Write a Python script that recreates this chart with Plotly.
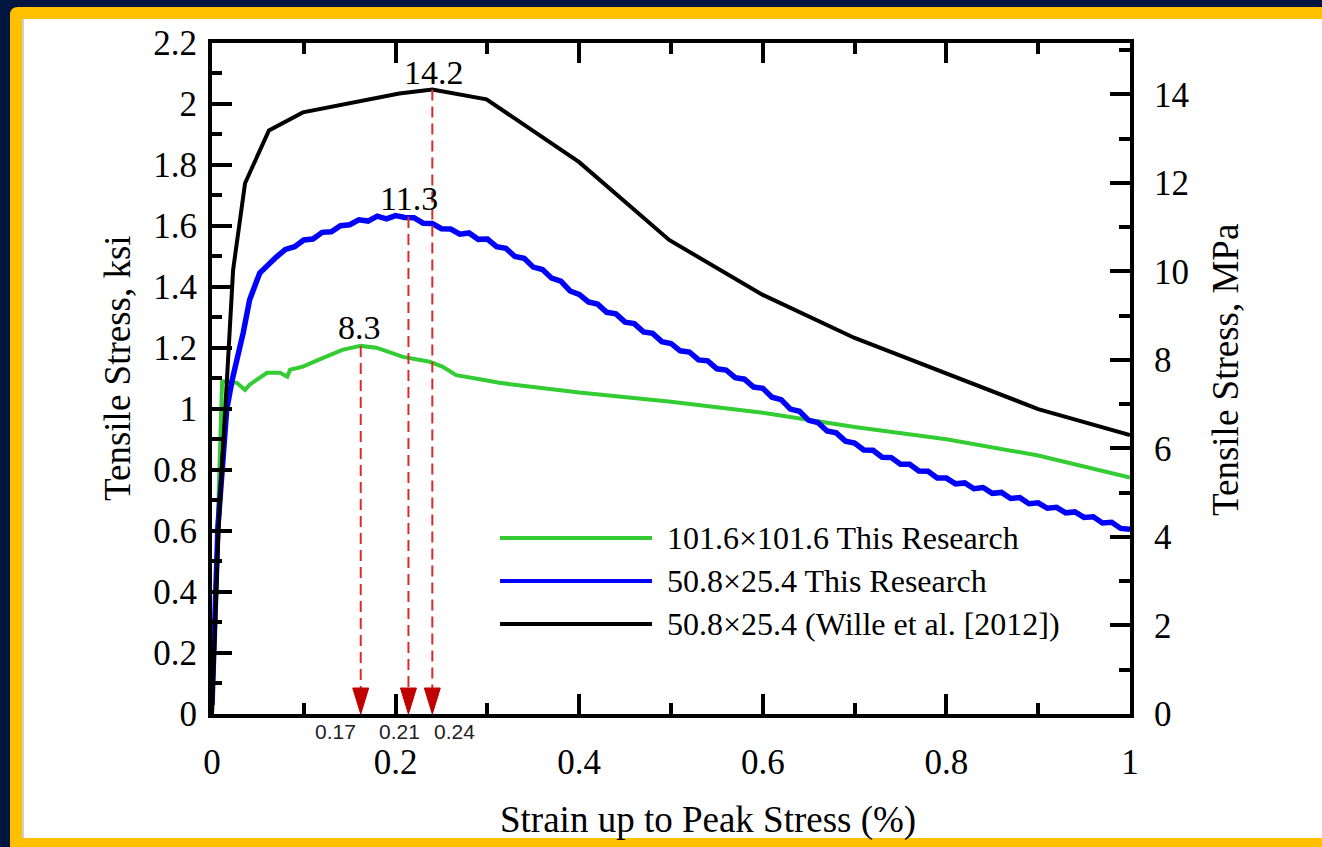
import plotly.graph_objects as go

W, H = 1322, 847

# ---------------- data ----------------
# Green: 101.6x101.6 This Research (strain %, stress ksi)
green_x = [0.0, 0.0087, 0.011, 0.027, 0.036, 0.041, 0.060, 0.074, 0.082, 0.085, 0.099, 0.121,
           0.142, 0.162, 0.179, 0.208, 0.237, 0.251, 0.266, 0.295, 0.313, 0.4, 0.5, 0.6, 0.7,
           0.8, 0.9, 1.0]
green_y = [0.0, 0.93, 1.09, 1.085, 1.062, 1.079, 1.118, 1.118, 1.105, 1.128, 1.138, 1.167,
           1.193, 1.206, 1.2, 1.17, 1.154, 1.138, 1.11, 1.095, 1.085, 1.053, 1.023, 0.987, 0.94,
           0.9, 0.847, 0.775]

# Blue: 50.8x25.4 This Research
blue_x = [0.0, 0.0065, 0.016, 0.022, 0.034, 0.041, 0.052, 0.063,
          0.07, 0.08, 0.09, 0.10, 0.11, 0.12, 0.13, 0.14, 0.15, 0.16, 0.17, 0.18, 0.19, 0.20,
          0.21, 0.22, 0.23, 0.24, 0.25, 0.26, 0.27, 0.28, 0.29, 0.30, 0.31, 0.32, 0.33, 0.34,
          0.35, 0.36, 0.37, 0.38, 0.39, 0.40, 0.41, 0.42, 0.43, 0.44, 0.45, 0.46, 0.47, 0.48,
          0.49, 0.50, 0.51, 0.52, 0.53, 0.54, 0.55, 0.56, 0.57, 0.58, 0.59, 0.60, 0.61, 0.62,
          0.63, 0.64, 0.65, 0.66, 0.67, 0.68, 0.69, 0.70, 0.71, 0.72, 0.73, 0.74, 0.75, 0.76,
          0.77, 0.78, 0.79, 0.80, 0.81, 0.82, 0.83, 0.84, 0.85, 0.86, 0.87, 0.88, 0.89, 0.90,
          0.91, 0.92, 0.93, 0.94, 0.95, 0.96, 0.97, 0.98, 0.99, 1.00]
blue_y = [0.03, 0.615, 0.997, 1.095, 1.249, 1.357, 1.445, 1.478,
          1.497, 1.522, 1.531, 1.553, 1.556, 1.578, 1.580, 1.600, 1.603, 1.619, 1.615, 1.631,
          1.622, 1.633, 1.627, 1.626, 1.608, 1.607, 1.590, 1.589, 1.572, 1.576, 1.555, 1.556,
          1.531, 1.526, 1.499, 1.493, 1.464, 1.456, 1.428, 1.418, 1.386, 1.375, 1.350, 1.343,
          1.316, 1.311, 1.284, 1.279, 1.252, 1.247, 1.220, 1.214, 1.190, 1.186, 1.160, 1.157,
          1.131, 1.127, 1.102, 1.097, 1.071, 1.067, 1.038, 1.030, 0.999, 0.992, 0.962, 0.955,
          0.927, 0.921, 0.894, 0.888, 0.865, 0.864, 0.841, 0.840, 0.818, 0.818, 0.796, 0.795,
          0.773, 0.773, 0.754, 0.757, 0.738, 0.742, 0.723, 0.726, 0.706, 0.709, 0.689, 0.692,
          0.674, 0.677, 0.659, 0.662, 0.644, 0.646, 0.626, 0.628, 0.608, 0.605]

# Black: 50.8x25.4 (Wille et al. [2012])
black_x = [0.0, 0.007, 0.023, 0.036, 0.062, 0.099, 0.204, 0.24, 0.299, 0.4, 0.498, 0.6, 0.7,
           0.8, 0.9, 1.0]
black_y = [0.0, 0.6, 1.455, 1.739, 1.912, 1.971, 2.033, 2.046, 2.014, 1.808, 1.553, 1.373,
           1.232, 1.117, 0.999, 0.914]

series_names = ["101.6×101.6 This Research", "50.8×25.4 This Research",
                "50.8×25.4 (Wille et al. [2012])"]
series_colors = ["#33CC33", "#0000FF", "#000000"]

# peak markers
peak_x = [0.162, 0.214, 0.24]
peak_y = [1.206, 1.628, 2.046]
peak_labels = ["8.3", "11.3", "14.2"]
peak_label_x = [0.161, 0.2146, 0.242]
strain_labels = ["0.17", "0.21", "0.24"]
strain_label_x = [0.135, 0.204, 0.264]

KSI_TO_MPA = 6.895
Y_MAX = 2.2

# ---------------- layout geometry ----------------
X0P, X1P = 212, 1130      # pixel x of strain 0 and 1
Y0P, Y1P = 714, 42.5      # pixel y of 0 and 2.2 ksi
def fx(p): return p / W
def fy(p): return 1 - p / H

x_per_px = 1.0 / (X1P - X0P)
y_per_px = Y_MAX / (Y0P - Y1P)

SERIF = "Liberation Serif, Times New Roman, serif"
SANS = "Liberation Sans, Arial, sans-serif"

fig = go.Figure()

series = [(green_x, green_y, 4), (blue_x, blue_y, 5.5), (black_x, black_y, 4)]
for (xs, ys, w), name, col in zip(series, series_names, series_colors):
    fig.add_trace(go.Scatter(x=xs, y=ys, mode="lines", name=name,
                             line=dict(color=col, width=w), showlegend=False,
                             xaxis="x", yaxis="y"))

# invisible trace to activate the MPa axis
fig.add_trace(go.Scatter(x=[0, 1], y=[0, Y_MAX * KSI_TO_MPA], mode="markers",
                         marker=dict(opacity=0), showlegend=False, hoverinfo="skip",
                         xaxis="x", yaxis="y2"))

shapes = []
# frame: navy bg, gold rounded border, white card
r = 8
shapes.append(dict(type="path", xref="paper", yref="paper", layer="below",
                   path=(f"M {fx(10)},{fy(H)} L {fx(10)},{fy(7 + r)} "
                         f"Q {fx(10)},{fy(7)} {fx(10 + r)},{fy(7)} "
                         f"L {fx(W)},{fy(7)} L {fx(W)},{fy(H)} Z"),
                   fillcolor="#FFC000", line=dict(width=0)))
shapes.append(dict(type="rect", xref="paper", yref="paper", layer="below",
                   x0=fx(22), x1=fx(W), y0=fy(838), y1=fy(19),
                   fillcolor="white", line=dict(width=0)))
shapes.append(dict(type="line", xref="paper", yref="paper", layer="below",
                   x0=fx(23), x1=fx(23), y0=fy(838), y1=fy(19),
                   line=dict(color="#CFCFCF", width=2)))

# red dashed drop lines with arrowheads
arrow_h = 26 * y_per_px
arrow_hw = 8 * x_per_px
for xp, yp in zip(peak_x, peak_y):
    shapes.append(dict(type="line", xref="x", yref="y", x0=xp, x1=xp, y0=yp, y1=arrow_h,
                       line=dict(color="#D92B2B", width=2, dash="11px,6px")))
    shapes.append(dict(type="path", xref="x", yref="y",
                       path=f"M {xp - arrow_hw},{arrow_h} L {xp + arrow_hw},{arrow_h} L {xp},0 Z",
                       fillcolor="#C00000", line=dict(color="#C00000", width=1)))

# custom legend
legend_y = [538, 581, 624]
for ly, col in zip(legend_y, series_colors):
    shapes.append(dict(type="line", xref="paper", yref="paper",
                       x0=fx(500), x1=fx(652), y0=fy(ly), y1=fy(ly),
                       line=dict(color=col, width=4)))

annotations = []
for ly, name in zip(legend_y, series_names):
    annotations.append(dict(xref="paper", yref="paper", x=fx(665), y=fy(ly), text=name,
                            showarrow=False, xanchor="left", yanchor="middle",
                            font=dict(family=SERIF, size=32, color="black")))

peak_label_ypx = [327, 199, 72]
for lx, lyp, t in zip(peak_label_x, peak_label_ypx, peak_labels):
    annotations.append(dict(xref="x", yref="paper", x=lx, y=fy(lyp), text=t, showarrow=False,
                            xanchor="center", yanchor="middle",
                            font=dict(family=SERIF, size=34, color="black")))

for lx, t in zip(strain_label_x, strain_labels):
    annotations.append(dict(xref="x", yref="paper", x=lx, y=fy(731), text=t, showarrow=False,
                            xanchor="center", yanchor="middle",
                            font=dict(family=SANS, size=21, color="#222222")))

# axis titles
annotations.append(dict(xref="paper", yref="paper", x=fx(117), y=fy(368),
                        text="Tensile Stress, ksi", textangle=-90, showarrow=False,
                        xanchor="center", yanchor="middle",
                        font=dict(family=SERIF, size=37, color="black")))
annotations.append(dict(xref="paper", yref="paper", x=fx(1225), y=fy(370),
                        text="Tensile Stress, MPa", textangle=-90, showarrow=False,
                        xanchor="center", yanchor="middle",
                        font=dict(family=SERIF, size=37, color="black")))
annotations.append(dict(xref="paper", yref="paper", x=fx(708), y=fy(820),
                        text="Strain up to Peak Stress (%)", showarrow=False,
                        xanchor="center", yanchor="middle",
                        font=dict(family=SERIF, size=37, color="black")))

tickfont = dict(family=SERIF, size=35, color="black")
common = dict(showgrid=False, zeroline=False, showline=True, linecolor="black", linewidth=4,
              ticks="inside", tickcolor="black", tickwidth=4, ticklen=20, tickfont=tickfont)

fig.update_layout(
    width=W, height=H, margin=dict(l=0, r=0, t=0, b=0, pad=0, autoexpand=False),
    paper_bgcolor="#001641", plot_bgcolor="rgba(0,0,0,0)",
    showlegend=False,
    xaxis=dict(domain=[fx(X0P), fx(X1P)], range=[0, 1], dtick=0.2, tick0=0, mirror="ticks",
               minor=dict(dtick=0.1, ticklen=11, tickwidth=3.5, ticks="inside",
                          tickcolor="black"),
               ticklabelstandoff=14, **common),
    yaxis=dict(domain=[fy(Y0P), fy(Y1P)], range=[0, Y_MAX], dtick=0.2, tick0=0,
               minor=dict(dtick=0.1, ticklen=10, tickwidth=3.5, ticks="inside",
                          tickcolor="black"),
               ticklabelstandoff=4, **common),
    yaxis2=dict(overlaying="y", side="right", anchor="x", range=[0, Y_MAX * KSI_TO_MPA],
                dtick=2, tick0=0,
                minor=dict(dtick=1, ticklen=11, tickwidth=3.5, ticks="inside",
                           tickcolor="black"),
                ticklabelstandoff=13, **common),
    shapes=shapes, annotations=annotations,
)

fig.write_html("out.html", config={"displayModeBar": False})
